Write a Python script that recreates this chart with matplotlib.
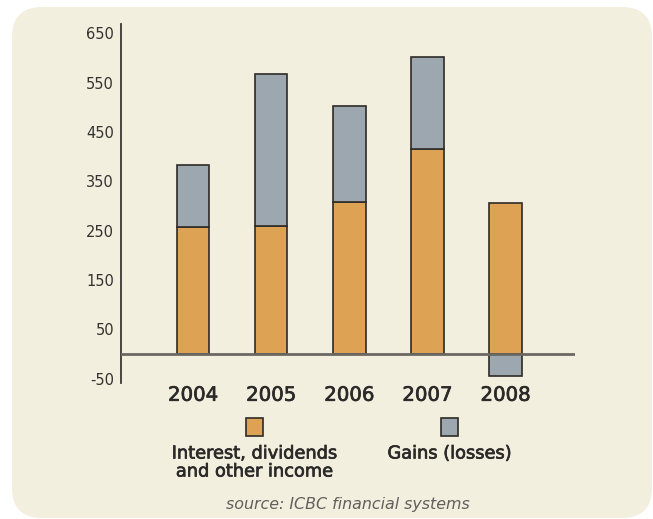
import matplotlib
matplotlib.use("Agg")
import matplotlib.pyplot as plt
import matplotlib.patheffects as pe
from matplotlib.patches import FancyBboxPatch, Rectangle

years = ["2004", "2005", "2006", "2007", "2008"]
interest = [258, 260, 308, 415, 307]
gains = [126, 308, 194, 187, -45]
yticks = [-50, 50, 150, 250, 350, 450, 550, 650]
legend_labels = ["Interest, dividends\nand other income", "Gains (losses)"]
source = "source: ICBC financial systems"

W, H = 653, 519
fig = plt.figure(figsize=(W / 100, H / 100), dpi=100)
fig.patch.set_facecolor("white")

bg = "#f3efdf"
orange = "#dda253"
grey = "#9da7b0"
edge = "#2e2b28"
textc = "#2b2a29"
FONT = "DejaVu Sans"
medium = [pe.withStroke(linewidth=0.5, foreground=textc)]

# background axes in pixel coordinates
bax = fig.add_axes([0, 0, 1, 1], zorder=0)
bax.set_xlim(0, W)
bax.set_ylim(H, 0)
bax.axis("off")
bax.add_patch(FancyBboxPatch((12, 7), 652 - 12, 518 - 7,
                             boxstyle="round,pad=0,rounding_size=30",
                             facecolor=bg, edgecolor="none"))

# legend squares and texts (pixel coords)
for cx, col, lab in [(254.5, orange, legend_labels[0]), (449.5, grey, legend_labels[1])]:
    bax.add_patch(Rectangle((cx - 8.75, 418), 17.5, 17.5, facecolor=col,
                            edgecolor=edge, linewidth=1.2))
    t = bax.text(cx, 444.5, lab, ha="center", va="top", fontsize=12.8, color=textc,
                 family=FONT, linespacing=1.0)
    t.set_path_effects(medium)
bax.text(348, 505, source, ha="center", va="center", fontsize=11.4, color="#615f5b",
         family=FONT, style="italic")

def fx(px):
    return px / W

def fy(py):
    return 1 - py / H

# main axes: x 121..575 px, y 24..383 px
ax = fig.add_axes([fx(121), fy(383), fx(575 - 121), (383 - 24) / H], zorder=1)
ax.set_facecolor("none")
scale = 0.4932  # px per unit
shift = 2.7
ytop = 650 + (30.8 + shift - 24) / scale
ybot = 50 - (383 - 326.7 - shift) / scale
ax.set_ylim(ybot, ytop)
spacing = 78.1
ax.set_xlim(-(193 - 121) / spacing, 4 + (575 - 505.5) / spacing)

x = list(range(len(years)))
bw = 32.5 / spacing
ax.bar(x, interest, width=bw, color=orange, edgecolor=edge, linewidth=1.2, zorder=3)
bottoms = [i if g >= 0 else 0 for i, g in zip(interest, gains)]
ax.bar(x, gains, width=bw, bottom=bottoms, color=grey, edgecolor=edge, linewidth=1.2, zorder=3)
ax.axhline(0, color="#6b6862", linewidth=2, zorder=4)

for s in ["top", "right", "bottom"]:
    ax.spines[s].set_visible(False)
ax.spines["left"].set_color("#3a3835")
ax.spines["left"].set_linewidth(1.3)

ax.set_yticks(yticks)
ax.set_yticklabels([str(v) for v in yticks], fontsize=10.5, color="#333230", family=FONT)
ax.tick_params(axis="y", length=0, pad=5)
ax.set_xticks(x)
ax.set_xticklabels(years, fontsize=14.2, color=textc, family=FONT)
for lbl in ax.get_xticklabels():
    lbl.set_path_effects([pe.withStroke(linewidth=0.5, foreground=textc)])
ax.tick_params(axis="x", length=0, pad=2)

fig.savefig("out.png", dpi=100, facecolor=fig.get_facecolor())
